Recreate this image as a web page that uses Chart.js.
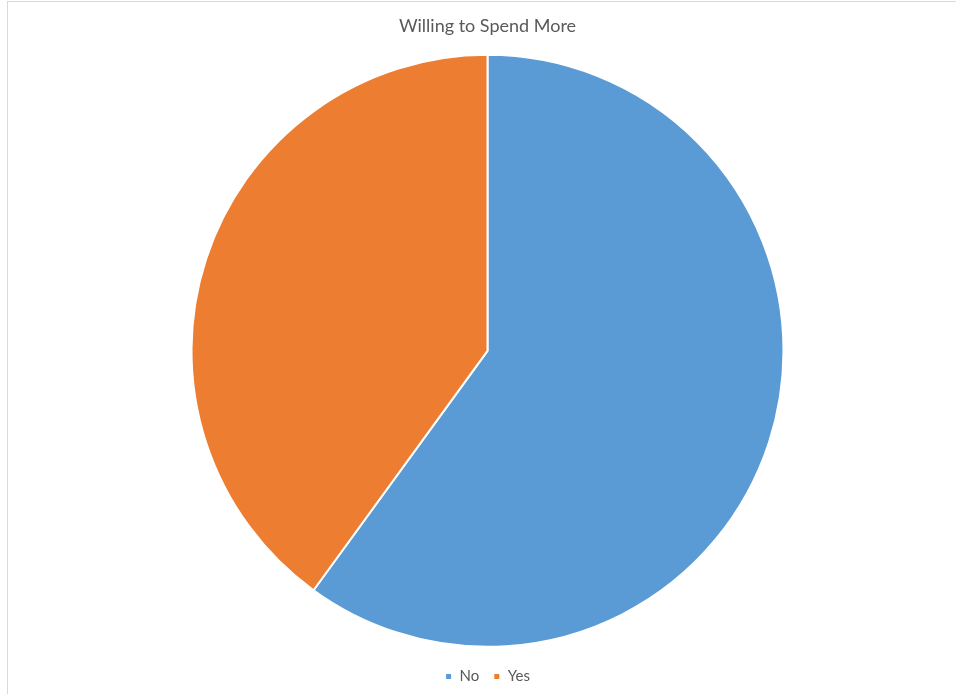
<!DOCTYPE html>
<html>
<head>
<meta charset="utf-8">
<script src="https://cdn.jsdelivr.net/npm/chart.js@4"></script>
<style>
  html, body { margin: 0; padding: 0; background: #fff; }
  #wrap { position: absolute; left: 0; top: 0; width: 956px; height: 694px; }
  #frame { position: absolute; left: 7px; top: 1px; width: 960px; height: 700px;
           border-left: 1px solid #d9d9d9; border-top: 1px solid #d9d9d9; }
  canvas { position: absolute; left: 0; top: 0; }
</style>
</head>
<body>
<div id="wrap">
  <div id="frame"></div>
  <canvas id="myChart" width="956" height="694"></canvas>
</div>
<script>
const labels = ["No", "Yes"];
const values = [60, 40];
const colors = ["#5B9BD5", "#ED7D31"];

const ctx = document.getElementById('myChart').getContext('2d');
new Chart(ctx, {
  type: 'pie',
  data: {
    labels: labels,
    datasets: [{
      data: values,
      backgroundColor: colors,
      borderColor: "#ffffff",
      borderWidth: 2,
      radius: 296
    }]
  },
  options: {
    responsive: false,
    animation: false,
    layout: { padding: { left: 19, right: 0, top: 0, bottom: 0 } },
    plugins: {
      title: {
        display: true,
        text: "Willing to Spend More",
        color: "#595959",
        font: { family: "Lato", size: 18, weight: "normal" },
        padding: { top: 15, bottom: 10 }
      },
      legend: {
        position: 'bottom',
        labels: {
          color: "#595959",
          font: { family: "Lato", size: 15 },
          boxWidth: 7,
          boxHeight: 7,
          padding: 14
        }
      },
      tooltip: { enabled: false }
    }
  }
});
</script>
</body>
</html>
